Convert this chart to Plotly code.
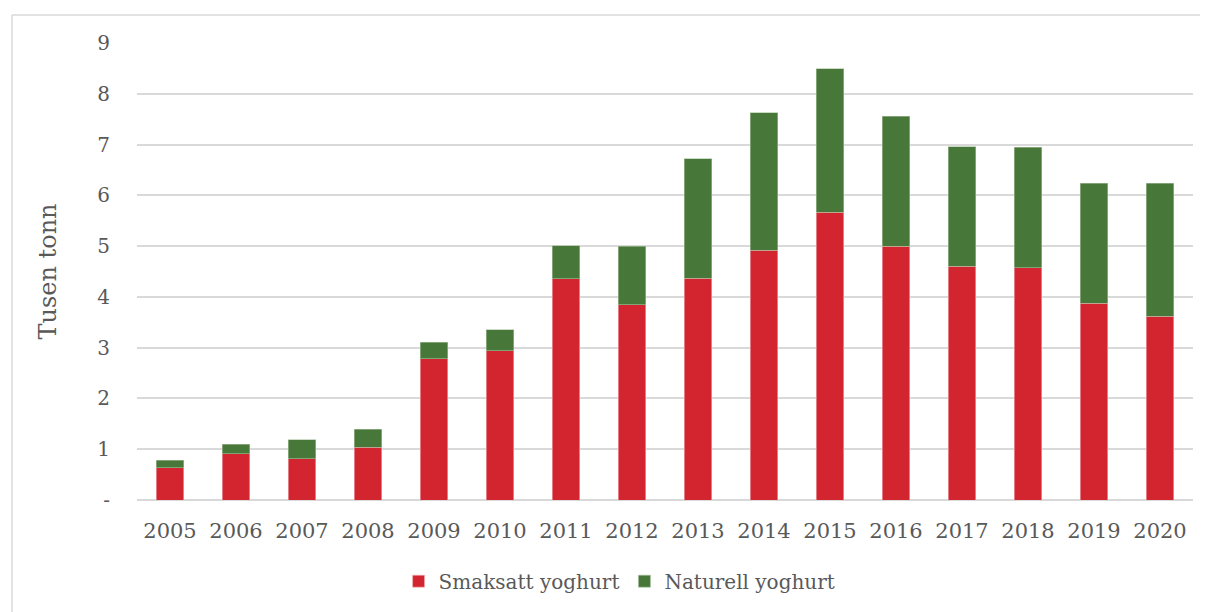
import plotly.graph_objects as go

# ---- data (tusen tonn) ----
years = ['2005', '2006', '2007', '2008', '2009', '2010', '2011', '2012',
         '2013', '2014', '2015', '2016', '2017', '2018', '2019', '2020']
smaksatt = [0.64, 0.91, 0.81, 1.04, 2.78, 2.94, 4.36, 3.85,
            4.37, 4.92, 5.67, 5.00, 4.60, 4.57, 3.87, 3.62]
naturell = [0.14, 0.19, 0.38, 0.35, 0.33, 0.41, 0.65, 1.15,
            2.35, 2.71, 2.82, 2.56, 2.36, 2.38, 2.37, 2.62]
y_ticks = [0, 1, 2, 3, 4, 5, 6, 7, 8, 9]
y_ticktext = ['-', '1', '2', '3', '4', '5', '6', '7', '8', '9']

font_fam = 'DejaVu Serif'
txt = '#595959'
frame = dict(color='#d9d9d9', width=1.5)

fig = go.Figure()
fig.add_trace(go.Bar(x=years, y=smaksatt, name='Smaksatt yoghurt',
                     marker=dict(color='#D32530', line=dict(color='#f2b8bb', width=0.6))))
fig.add_trace(go.Bar(x=years, y=naturell, name='Naturell yoghurt',
                     marker=dict(color='#48773A', line=dict(color='#a9c29f', width=0.6))))

# page body has an 8px margin, so the figure is 8px smaller than the window
fig.update_layout(
    barmode='stack',
    bargap=0.59,
    width=1200, height=604,
    margin=dict(l=129, r=15, t=35, b=111),
    plot_bgcolor='white', paper_bgcolor='white',
    font=dict(family=font_fam, color=txt, size=20),
    legend=dict(orientation='h', x=0.457, xanchor='center', y=-0.175, yanchor='middle',
                font=dict(size=20, color=txt), itemwidth=30, traceorder='normal'),
    xaxis=dict(showgrid=False, showline=False, ticks='', tickfont=dict(size=21),
               ticklabelstandoff=16),
    yaxis=dict(range=[0, 9], tickvals=y_ticks, ticktext=y_ticktext,
               showgrid=True, gridcolor='#d9d9d9', gridwidth=1.8,
               zeroline=True, zerolinecolor='#d9d9d9', zerolinewidth=1.8,
               ticks='', ticklabelstandoff=26, tickfont=dict(size=20),
               title=dict(text='Tusen tonn', font=dict(size=24), standoff=33)),
    # outer chart frame (left and top edges; the rest runs off the picture)
    shapes=[dict(type='line', xref='paper', yref='paper',
                 x0=-0.1184, x1=-0.1184, y0=-0.4, y1=1.061, line=frame, layer='below'),
            dict(type='line', xref='paper', yref='paper',
                 x0=-0.1184, x1=1.1, y0=1.061, y1=1.061, line=frame, layer='below')],
)

fig.write_html('out.html')
